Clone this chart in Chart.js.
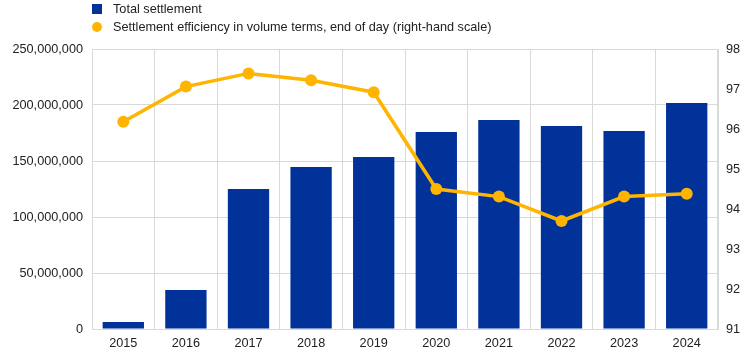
<!DOCTYPE html>
<html>
<head>
<meta charset="utf-8">
<script src="https://cdn.jsdelivr.net/npm/chart.js@4"></script>
<style>
  html, body { margin: 0; padding: 0; background: #fff; }
  #wrap { position: relative; width: 744px; height: 357px; }
  #legend { position: absolute; left: 92px; top: 0; font-family: "Liberation Sans", Arial, sans-serif; font-size: 12.7px; color: #222; }
  .item { position: relative; height: 18px; line-height: 18px; padding-left: 21px; white-space: nowrap; }
  .sq { position: absolute; left: 0; top: 4px; width: 10px; height: 10px; background: #003299; }
  .dot { position: absolute; left: 0; top: 4px; width: 10px; height: 10px; border-radius: 50%; background: #FFB400; }
</style>
</head>
<body>
<div id="wrap">
  <canvas id="c" width="744" height="357"></canvas>
  <div id="legend">
    <div class="item"><span class="sq"></span>Total settlement</div>
    <div class="item"><span class="dot"></span>Settlement efficiency in volume terms, end of day (right-hand scale)</div>
  </div>
</div>
<script>
const categories = ["2015","2016","2017","2018","2019","2020","2021","2022","2023","2024"];
const totalSettlement = [6300000, 34800000, 125000000, 144600000, 153600000, 175900000, 186600000, 181200000, 176800000, 201800000];
const settlementEfficiency = [96.18, 97.06, 97.39, 97.22, 96.92, 94.5, 94.31, 93.7, 94.31, 94.38];
const leftTicks = [0, 50000000, 100000000, 150000000, 200000000, 250000000];
const rightTicks = [91, 92, 93, 94, 95, 96, 97, 98];

const FONT = { family: '"Liberation Sans", Arial, sans-serif', size: 12.7 };
const GRID = '#d9d9d9';

new Chart(document.getElementById('c'), {
  data: {
    labels: categories,
    datasets: [
      {
        type: 'line',
        label: 'Settlement efficiency in volume terms, end of day (right-hand scale)',
        data: settlementEfficiency,
        yAxisID: 'y1',
        borderColor: '#FFB400',
        backgroundColor: '#FFB400',
        borderWidth: 3.5,
        pointRadius: 6,
        pointHoverRadius: 6,
        pointBorderWidth: 0,
        tension: 0,
        order: 0
      },
      {
        type: 'bar',
        label: 'Total settlement',
        data: totalSettlement,
        yAxisID: 'y',
        backgroundColor: '#003299',
        barPercentage: 0.66,
        categoryPercentage: 1,
        order: 1
      }
    ]
  },
  options: {
    responsive: false,
    animation: false,
    layout: { padding: { top: 49, left: 0, right: 0, bottom: 0 } },
    plugins: { legend: { display: false }, tooltip: { enabled: false } },
    scales: {
      x: {
        offset: true,
        grid: { display: true, color: GRID, offset: true, drawTicks: false },
        border: { display: true, color: GRID },
        ticks: { font: FONT, color: '#222', padding: 7, maxRotation: 0 },
        afterFit: s => { s.height = 28; }
      },
      y: {
        position: 'left',
        min: 0, max: 250000000,
        afterBuildTicks: s => { s.ticks = leftTicks.map(v => ({ value: v })); },
        grid: { color: GRID, drawTicks: false },
        border: { display: true, color: GRID },
        ticks: {
          font: FONT, color: '#222', padding: 9,
          callback: v => v.toLocaleString('en-US')
        },
        afterFit: s => { s.width = 92; }
      },
      y1: {
        position: 'right',
        min: 91, max: 98,
        afterBuildTicks: s => { s.ticks = rightTicks.map(v => ({ value: v })); },
        grid: { display: false, drawTicks: false },
        border: { display: true, color: GRID },
        ticks: { font: FONT, color: '#222', padding: 8 },
        afterFit: s => { s.width = 26; }
      }
    }
  }
});
</script>
</body>
</html>
